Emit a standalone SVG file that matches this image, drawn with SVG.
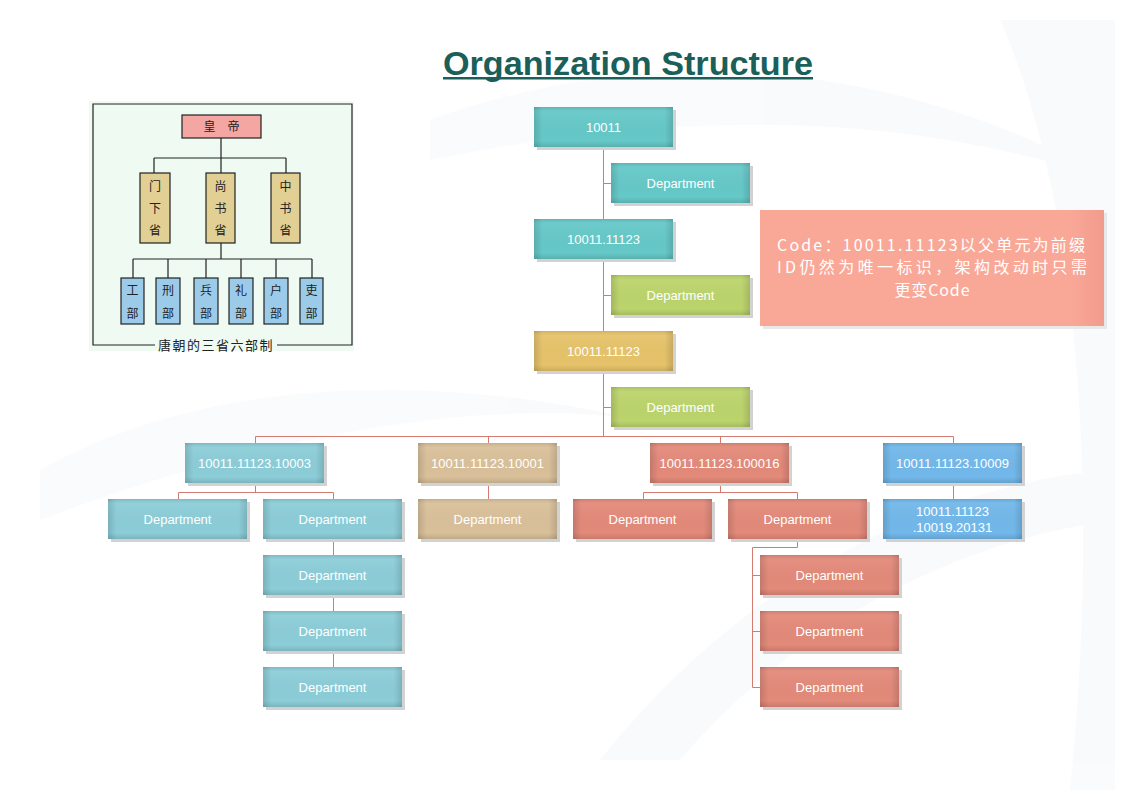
<svg xmlns="http://www.w3.org/2000/svg" width="1123" height="794" viewBox="0 0 1123 794">
<defs>
<linearGradient id="bh" x1="0" y1="0" x2="1" y2="0">
<stop offset="0" stop-color="#000" stop-opacity="0.13"/>
<stop offset="0.06" stop-color="#000" stop-opacity="0"/>
<stop offset="0.94" stop-color="#000" stop-opacity="0"/>
<stop offset="1" stop-color="#000" stop-opacity="0.13"/>
</linearGradient>
<linearGradient id="bv" x1="0" y1="0" x2="0" y2="1">
<stop offset="0" stop-color="#000" stop-opacity="0.1"/>
<stop offset="0.12" stop-color="#fff" stop-opacity="0.05"/>
<stop offset="0.85" stop-color="#000" stop-opacity="0"/>
<stop offset="1" stop-color="#000" stop-opacity="0.12"/>
</linearGradient>
<linearGradient id="cg" x1="0" y1="0" x2="1" y2="0">
<stop offset="0" stop-color="#f9a898"/>
<stop offset="0.9" stop-color="#f9a898"/>
<stop offset="1" stop-color="#f29b8d"/>
</linearGradient>
</defs>
<style>
.sh{fill:#d2d2d2}
.ov1{fill:url(#bh)}
.ov2{fill:url(#bv)}
.t{font-family:"Liberation Sans",Arial,sans-serif;font-size:13px;fill:#fff;text-anchor:middle}
.teal{fill:#66c8c8}
.grn{fill:#bcd46c}
.gold{fill:#e6c36a}
.lb{fill:#8ccdd8}
.tan{fill:#d9c09a}
.sal{fill:#e38a7a}
.blu{fill:#72b8ea}
.cn{fill:none;stroke:#d47a70;stroke-width:1}
.ik{stroke:#222;stroke-width:1.2}
.it{font-family:"Noto Sans CJK SC","Noto Sans CJK JP",sans-serif;font-size:12px;fill:#222;text-anchor:middle}
.il{fill:none;stroke:#222;stroke-width:1.2}
</style>
<rect width="1123" height="794" fill="#fff"/>
<g id="background" fill="#eef1f6" opacity="0.3">
<path d="M40,470 C200,380 420,370 640,420 C520,400 300,420 40,520 Z"/>
<path d="M430,120 C650,40 900,60 1110,180 C900,110 680,110 430,160 Z"/>
<path d="M600,760 C760,560 960,480 1115,470 L1115,520 C960,540 800,620 680,760 Z"/>
<path d="M1000,20 C1080,200 1100,500 1070,790 L1115,790 L1115,20 Z"/>
</g>

<g id="title">
<text x="628" y="75" font-family="'Liberation Sans',Arial,sans-serif" font-size="34" font-weight="bold" fill="#1a5f5a" text-anchor="middle" textLength="370" lengthAdjust="spacingAndGlyphs">Organization Structure</text>
<rect x="443" y="77" width="370" height="2.5" fill="#1a5f5a"/>
</g>

<g id="inset">
<rect x="89" y="101" width="265" height="250" fill="#eefaf2"/>
<path class="il" d="M155,345 H93 V104 H352 V345 H277"/>
<text x="216" y="350" font-family="'Noto Sans CJK SC',sans-serif" font-size="13" fill="#222" text-anchor="middle" letter-spacing="1.5">唐朝的三省六部制</text>
<path class="il" d="M221,138 V158 M154,158 H286 M154,158 V173 M221,158 V173 M286,158 V173 M221,243 V259 M133,259 H312 M133,259 V278 M168,259 V278 M206,259 V278 M241,259 V278 M276,259 V278 M312,259 V278"/>
<g id="emperor"><rect class="ik" x="182" y="115" width="79" height="23" fill="#f4a6a2"/><text class="it" x="221.5" y="131">皇　帝</text></g>
<g id="menxia"><rect class="ik" x="140" y="173" width="30" height="70" fill="#e2cf93"/><text class="it" x="155" y="191">门</text><text class="it" x="155" y="213">下</text><text class="it" x="155" y="235">省</text></g>
<g id="shangshu"><rect class="ik" x="206" y="173" width="29" height="70" fill="#e2cf93"/><text class="it" x="220.5" y="191">尚</text><text class="it" x="220.5" y="213">书</text><text class="it" x="220.5" y="235">省</text></g>
<g id="zhongshu"><rect class="ik" x="271" y="173" width="29" height="70" fill="#e2cf93"/><text class="it" x="285.5" y="191">中</text><text class="it" x="285.5" y="213">书</text><text class="it" x="285.5" y="235">省</text></g>
<g id="gong"><rect class="ik" x="121" y="278" width="23" height="46" fill="#9ccbea"/><text class="it" x="132.5" y="295">工</text><text class="it" x="132.5" y="318">部</text></g>
<g id="xing"><rect class="ik" x="156" y="278" width="24" height="46" fill="#9ccbea"/><text class="it" x="168" y="295">刑</text><text class="it" x="168" y="318">部</text></g>
<g id="bing"><rect class="ik" x="194" y="278" width="24" height="46" fill="#9ccbea"/><text class="it" x="206" y="295">兵</text><text class="it" x="206" y="318">部</text></g>
<g id="li"><rect class="ik" x="229" y="278" width="24" height="46" fill="#9ccbea"/><text class="it" x="241" y="295">礼</text><text class="it" x="241" y="318">部</text></g>
<g id="hu"><rect class="ik" x="264" y="278" width="24" height="46" fill="#9ccbea"/><text class="it" x="276" y="295">户</text><text class="it" x="276" y="318">部</text></g>
<g id="libu"><rect class="ik" x="300" y="278" width="23" height="46" fill="#9ccbea"/><text class="it" x="311.5" y="295">吏</text><text class="it" x="311.5" y="318">部</text></g>
</g>

<g id="connectors">
<path class="cn" d="M603.5,147 V436.5 M603.5,183.5 H611 M603.5,295.5 H611 M603.5,407.5 H611"/>
<path class="cn" d="M255.5,443 V436.5 H953.5 V443 M488.5,436.5 V443 M720.5,436.5 V443"/>
<path class="cn" d="M255.5,483 V492.5 M178.5,499 V492.5 H333.5 V499 M333.5,539 V667"/>
<path class="cn" d="M488.5,483 V499"/>
<path class="cn" d="M720.5,483 V492.5 M643.5,499 V492.5 H797.5 V499 M797.5,539 V547.5 H752.5 V687.5 H760 M752.5,575.5 H760 M752.5,631.5 H760"/>
<path class="cn" d="M953.5,483 V499"/>
</g>

<g id="n-root"><rect class="sh" x="537" y="110" width="139" height="40"/><rect class="teal" x="534" y="107" width="139" height="40"/><rect class="ov1" x="534" y="107" width="139" height="40"/><rect class="ov2" x="534" y="107" width="139" height="40"/><text class="t" x="603.5" y="132">10011</text></g>
<g id="n-dept1"><rect class="sh" x="614" y="166" width="139" height="40"/><rect class="teal" x="611" y="163" width="139" height="40"/><rect class="ov1" x="611" y="163" width="139" height="40"/><rect class="ov2" x="611" y="163" width="139" height="40"/><text class="t" x="680.5" y="188">Department</text></g>
<g id="n-l1"><rect class="sh" x="537" y="222" width="139" height="40"/><rect class="teal" x="534" y="219" width="139" height="40"/><rect class="ov1" x="534" y="219" width="139" height="40"/><rect class="ov2" x="534" y="219" width="139" height="40"/><text class="t" x="603.5" y="244">10011.11123</text></g>
<g id="n-dept2"><rect class="sh" x="614" y="278" width="139" height="40"/><rect class="grn" x="611" y="275" width="139" height="40"/><rect class="ov1" x="611" y="275" width="139" height="40"/><rect class="ov2" x="611" y="275" width="139" height="40"/><text class="t" x="680.5" y="300">Department</text></g>
<g id="n-l2"><rect class="sh" x="537" y="334" width="139" height="40"/><rect class="gold" x="534" y="331" width="139" height="40"/><rect class="ov1" x="534" y="331" width="139" height="40"/><rect class="ov2" x="534" y="331" width="139" height="40"/><text class="t" x="603.5" y="356">10011.11123</text></g>
<g id="n-dept3"><rect class="sh" x="614" y="390" width="139" height="40"/><rect class="grn" x="611" y="387" width="139" height="40"/><rect class="ov1" x="611" y="387" width="139" height="40"/><rect class="ov2" x="611" y="387" width="139" height="40"/><text class="t" x="680.5" y="412">Department</text></g>

<g id="n-10003"><rect class="sh" x="188" y="446" width="139" height="40"/><rect class="lb" x="185" y="443" width="139" height="40"/><rect class="ov1" x="185" y="443" width="139" height="40"/><rect class="ov2" x="185" y="443" width="139" height="40"/><text class="t" x="254.5" y="468">10011.11123.10003</text></g>
<g id="n-10003-a"><rect class="sh" x="111" y="502" width="139" height="40"/><rect class="lb" x="108" y="499" width="139" height="40"/><rect class="ov1" x="108" y="499" width="139" height="40"/><rect class="ov2" x="108" y="499" width="139" height="40"/><text class="t" x="177.5" y="524">Department</text></g>
<g id="n-10003-b"><rect class="sh" x="266" y="502" width="139" height="40"/><rect class="lb" x="263" y="499" width="139" height="40"/><rect class="ov1" x="263" y="499" width="139" height="40"/><rect class="ov2" x="263" y="499" width="139" height="40"/><text class="t" x="332.5" y="524">Department</text></g>
<g id="n-10003-b1"><rect class="sh" x="266" y="558" width="139" height="40"/><rect class="lb" x="263" y="555" width="139" height="40"/><rect class="ov1" x="263" y="555" width="139" height="40"/><rect class="ov2" x="263" y="555" width="139" height="40"/><text class="t" x="332.5" y="580">Department</text></g>
<g id="n-10003-b2"><rect class="sh" x="266" y="614" width="139" height="40"/><rect class="lb" x="263" y="611" width="139" height="40"/><rect class="ov1" x="263" y="611" width="139" height="40"/><rect class="ov2" x="263" y="611" width="139" height="40"/><text class="t" x="332.5" y="636">Department</text></g>
<g id="n-10003-b3"><rect class="sh" x="266" y="670" width="139" height="40"/><rect class="lb" x="263" y="667" width="139" height="40"/><rect class="ov1" x="263" y="667" width="139" height="40"/><rect class="ov2" x="263" y="667" width="139" height="40"/><text class="t" x="332.5" y="692">Department</text></g>

<g id="n-10001"><rect class="sh" x="421" y="446" width="139" height="40"/><rect class="tan" x="418" y="443" width="139" height="40"/><rect class="ov1" x="418" y="443" width="139" height="40"/><rect class="ov2" x="418" y="443" width="139" height="40"/><text class="t" x="487.5" y="468">10011.11123.10001</text></g>
<g id="n-10001-a"><rect class="sh" x="421" y="502" width="139" height="40"/><rect class="tan" x="418" y="499" width="139" height="40"/><rect class="ov1" x="418" y="499" width="139" height="40"/><rect class="ov2" x="418" y="499" width="139" height="40"/><text class="t" x="487.5" y="524">Department</text></g>

<g id="n-100016"><rect class="sh" x="653" y="446" width="139" height="40"/><rect class="sal" x="650" y="443" width="139" height="40"/><rect class="ov1" x="650" y="443" width="139" height="40"/><rect class="ov2" x="650" y="443" width="139" height="40"/><text class="t" x="719.5" y="468">10011.11123.100016</text></g>
<g id="n-100016-a"><rect class="sh" x="576" y="502" width="139" height="40"/><rect class="sal" x="573" y="499" width="139" height="40"/><rect class="ov1" x="573" y="499" width="139" height="40"/><rect class="ov2" x="573" y="499" width="139" height="40"/><text class="t" x="642.5" y="524">Department</text></g>
<g id="n-100016-b"><rect class="sh" x="731" y="502" width="139" height="40"/><rect class="sal" x="728" y="499" width="139" height="40"/><rect class="ov1" x="728" y="499" width="139" height="40"/><rect class="ov2" x="728" y="499" width="139" height="40"/><text class="t" x="797.5" y="524">Department</text></g>
<g id="n-100016-b1"><rect class="sh" x="763" y="558" width="139" height="40"/><rect class="sal" x="760" y="555" width="139" height="40"/><rect class="ov1" x="760" y="555" width="139" height="40"/><rect class="ov2" x="760" y="555" width="139" height="40"/><text class="t" x="829.5" y="580">Department</text></g>
<g id="n-100016-b2"><rect class="sh" x="763" y="614" width="139" height="40"/><rect class="sal" x="760" y="611" width="139" height="40"/><rect class="ov1" x="760" y="611" width="139" height="40"/><rect class="ov2" x="760" y="611" width="139" height="40"/><text class="t" x="829.5" y="636">Department</text></g>
<g id="n-100016-b3"><rect class="sh" x="763" y="670" width="139" height="40"/><rect class="sal" x="760" y="667" width="139" height="40"/><rect class="ov1" x="760" y="667" width="139" height="40"/><rect class="ov2" x="760" y="667" width="139" height="40"/><text class="t" x="829.5" y="692">Department</text></g>

<g id="n-10009"><rect class="sh" x="886" y="446" width="139" height="40"/><rect class="blu" x="883" y="443" width="139" height="40"/><rect class="ov1" x="883" y="443" width="139" height="40"/><rect class="ov2" x="883" y="443" width="139" height="40"/><text class="t" x="952.5" y="468">10011.11123.10009</text></g>
<g id="n-10009-a"><rect class="sh" x="886" y="502" width="139" height="40"/><rect class="blu" x="883" y="499" width="139" height="40"/><rect class="ov1" x="883" y="499" width="139" height="40"/><rect class="ov2" x="883" y="499" width="139" height="40"/><text class="t" x="952.5" y="516">10011.11123</text><text class="t" x="952.5" y="532">.10019.20131</text></g>

<g id="note">
<rect x="763" y="213" width="344" height="116" fill="#e8e8e8"/>
<rect x="760" y="210" width="344" height="116" fill="url(#cg)"/>
<g font-family="'Noto Sans CJK SC','Noto Sans CJK JP',sans-serif" font-size="16" fill="#fff" text-anchor="middle">
<text x="931" y="251" textLength="308" lengthAdjust="spacing">Code：10011.11123以父单元为前缀</text>
<text x="932" y="273" textLength="310" lengthAdjust="spacing">ID仍然为唯一标识，架构改动时只需</text>
<text x="932" y="296" textLength="75" lengthAdjust="spacing">更变Code</text>
</g>
</g>
</svg>
